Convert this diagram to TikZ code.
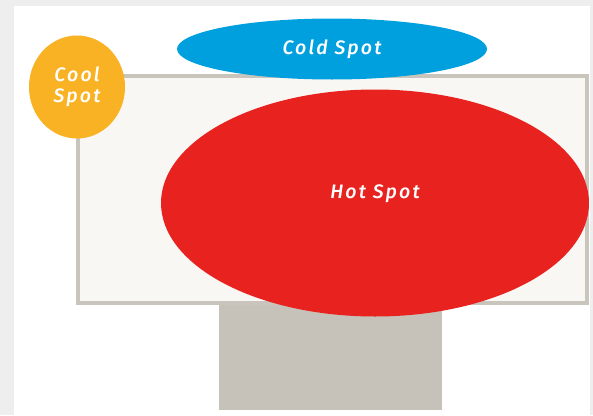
\documentclass[tikz,border=0pt]{standalone}
\usepackage{fontspec}
\newfontfamily\spotfont{Fira Sans Medium}[LetterSpace=11]
\usetikzlibrary{shapes.geometric}

\definecolor{framegray}{RGB}{238,238,238}
\definecolor{boardfill}{RGB}{249,247,244}
\definecolor{boardedge}{RGB}{201,197,189}
\definecolor{standgray}{RGB}{198,193,185}
\definecolor{coldblue}{RGB}{0,159,222}
\definecolor{coolyellow}{RGB}{249,178,36}
\definecolor{hotred}{RGB}{232,35,31}

\begin{document}
\begin{tikzpicture}[x=1pt,y=-1pt,
  spottext/.style={inner sep=0pt, text=white, align=center,
    font=\spotfont\itshape\fontsize{19.5}{21}\selectfont},
  spot/.style={ellipse, spottext}]
\useasboundingbox (0,0) rectangle (593,415);
\fill[framegray] (0,0) rectangle (593,415);
\fill[white] (14,6) rectangle (590,415);
\node[fill=standgray, inner sep=0pt, minimum width=223pt, minimum height=109pt] (stand) at (330.5,355.5) {};
\node[fill=boardfill, draw=boardedge, line width=4pt, inner sep=0pt, minimum width=509pt, minimum height=227pt] (board) at (332.5,189.5) {};
\node[spot, fill=coolyellow, minimum width=96pt, minimum height=103pt] (cool) at (77,87) {Cool\\Spot};
\node[spot, fill=coldblue, minimum width=310pt, minimum height=61pt] (cold) at (332,49) {Cold Spot};
\node[spot, fill=hotred, minimum width=428pt, minimum height=227pt] (hot) at (375,203) {};
\node[spottext] (hotlabel) at ([yshift=9pt]hot.center) {Hot Spot};
\end{tikzpicture}
\end{document}
